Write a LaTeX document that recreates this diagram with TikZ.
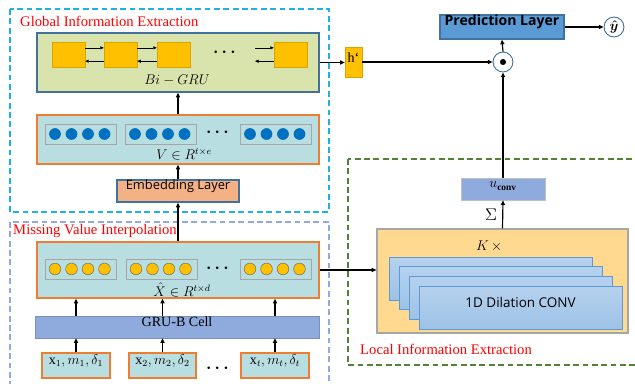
\documentclass[tikz,border=0pt]{standalone}
\usepackage{amsmath}
\usepackage{fontspec}
\setmainfont{Liberation Serif}
\newfontfamily\uifont{Open Sans}
\usetikzlibrary{fit,arrows.meta}

% colours taken from the figure
\definecolor{framecyan}{RGB}{30,176,232}
\definecolor{framelav}{RGB}{143,170,220}
\definecolor{framegreen}{RGB}{84,130,53}
\definecolor{edgeblue}{RGB}{65,113,156}
\definecolor{edgeorange}{RGB}{237,125,49}
\definecolor{grugreen}{RGB}{216,228,172}
\definecolor{panelcyan}{RGB}{185,222,226}
\definecolor{gruyellow}{RGB}{255,192,0}
\definecolor{dotblue}{RGB}{0,112,192}
\definecolor{embsalmon}{RGB}{244,177,131}
\definecolor{grubblue}{RGB}{143,170,220}
\definecolor{predblue}{RGB}{91,155,213}
\definecolor{kfill}{RGB}{255,217,143}
\definecolor{convtop}{RGB}{182,209,238}
\definecolor{convbot}{RGB}{157,194,230}

\tikzset{
  frame/.style={line width=1.1pt, dash pattern=on 5pt off 3pt},
  panel/.style={draw, line width=1.1pt, inner sep=0pt},
  group/.style={draw=black!35, line width=0.8pt, inner sep=0pt},
  cell/.style={draw=gruyellow!85!black, fill=gruyellow, line width=0.4pt, inner sep=0pt},
  inbox/.style={panel, draw=edgeorange, fill=panelcyan},
  convlayer/.style={draw=predblue, line width=0.8pt, top color=convtop, bottom color=convbot, inner sep=0pt},
  roundnode/.style={circle, draw=edgeblue, fill=white, line width=0.8pt, minimum size=17pt, inner sep=0pt},
  redtitle/.style={text=red, font=\fontsize{12.5}{14}\selectfont, inner sep=0pt},
  dotsnode/.style={inner sep=0pt, font=\Large},
  arr/.style={-{Triangle[length=4pt,width=3.5pt]}, line width=1pt},
  thinarr/.style={-{Triangle[length=3pt,width=2.6pt]}, line width=0.5pt},
}

\begin{document}
\begin{tikzpicture}[x=0.03cm, y=-0.03cm, font=\fontsize{12}{14}\selectfont]
\useasboundingbox (0,0) rectangle (635,383);

% dashed regions
\draw[frame, draw=framecyan] (10,9) rectangle (329,212);
\draw[frame, draw=framelav] (10,222) rectangle (329,395);
\draw[frame, draw=framegreen] (348,159) rectangle (645,365);
\node[redtitle, anchor=west] (globaltitle) at (20,21) {Global Information Extraction};
\node[redtitle, anchor=west] (missingtitle) at (13,231) {Missing Value Interpolation};
\node[redtitle, anchor=west] (localtitle) at (360,349) {Local Information Extraction};

% Bi-GRU
\node[panel, draw=edgeblue, fill=grugreen, fit={(37,33) (319,92)}] (bigru) {};
\foreach \i/\xa in {1/52, 2/104, 3/157, 4/274}
  \node[cell, fit={(\xa,42) (\xa+33,67)}] (c\i) {};
\foreach \a/\b in {c1/c2, c2/c3} {
  \draw[thinarr] ([yshift=0.2cm]\a.east) -- ([yshift=0.2cm]\b.west);
  \draw[thinarr] ([yshift=-0.2cm]\b.west) -- ([yshift=-0.2cm]\a.east);
}
\coordinate (c3out) at (255,54.5);
\draw[thinarr] ([yshift=0.2cm]c3out) -- ([yshift=0.2cm]c4.west);
\draw[thinarr] ([yshift=-0.2cm]c4.west) -- ([yshift=-0.2cm]c3out);
\node[dotsnode] (grudots) at (226,53) {$\boldsymbol{\cdots}$};
\node[inner sep=1pt] (bigrulab) at (177,80) {$Bi-GRU$};

% embedded sequence V
\node[panel, draw=edgeorange, fill=panelcyan, fit={(37,115) (319,164)}] (vpanel) {};
\foreach \g/\xa in {1/45, 2/125, 3/240} {
  \node[group, fit={(\xa,124) (\xa+71,144)}] (v\g) {};
  \foreach \k in {0,...,3}
    \fill[dotblue] (\xa+10+16.5*\k,134) circle (5pt);
}
\node[dotsnode] (vdots) at (219,133) {$\boldsymbol{\cdots}$};
\node[inner sep=1pt] (vlab) at (184,154) {$V \in R^{t\times e}$};

\node[panel, draw=edgeblue, fill=embsalmon, fit={(117,180) (239,202)}, font=\uifont\fontsize{11}{13}\selectfont] (emb) {Embedding Layer};

% interpolated sequence X hat
\node[panel, draw=edgeorange, fill=panelcyan, fit={(37,242) (319,298)}] (xhat) {};
\foreach \g/\xa in {1/45, 2/126, 3/240} {
  \node[group, fit={(\xa,259) (\xa+71,279)}] (x\g) {};
  \foreach \k in {0,...,3}
    \filldraw[fill=gruyellow, draw=black!60, line width=0.4pt] (\xa+10+16.5*\k,269) circle (5pt);
}
\node[dotsnode] (xdots) at (219,268) {$\boldsymbol{\cdots}$};
\node[inner sep=0pt] (xlab) at (182,290) {$\hat{X} \in R^{t\times d}$};

\node[fill=grubblue, draw=grubblue!85!black, line width=0.3pt, inner sep=0pt, fit={(35,316) (319,338)}] (grub) {GRU-B Cell};

% inputs
\node[inbox, fit={(42,353) (110,378)}] (in1) {$\mathrm{x}_1, m_1, \delta_1$};
\node[inbox, fit={(129,353) (196,378)}] (in2) {$\mathrm{x}_2, m_2, \delta_2$};
\node[inbox, fit={(241,353) (309,378)}] (in3) {$\mathrm{x}_t, m_t, \delta_t$};
\node[dotsnode] (indots) at (219,368) {$\boldsymbol{\cdots}$};
\foreach \i in {1,2,3} {
  \draw[arr] (in\i.north) -- (in\i.north |- grub.south);
  \draw[arr] (in\i.north |- grub.north) -- (in\i.north |- xhat.south);
}

% vertical flow on the left
\draw[arr] (xhat.north) -- (emb.south);
\draw[arr] (emb.north) -- (vpanel.south);
\draw[arr] (vpanel.north) -- (bigru.south);

% local branch
\node[draw=black!35, line width=1pt, fill=kfill, inner sep=0pt, fit={(377,229) (628,333)}] (kbox) {};
\node (klab) at (489,246) {$K\,\times$};
\foreach \i in {0,1,2}
  \node[convlayer, fit={(389+10*\i,257+9.7*\i) (592+10*\i,300+9.7*\i)}] (conv\i) {};
\node[convlayer, fit={(419,286) (622,329)}, font=\uifont\fontsize{11.5}{13}\selectfont] (conv3) {1D Dilation CONV};
\draw[arr] (xhat.east) -- (xhat.east -| kbox.west);

\node[fill=grubblue, draw=black!25, line width=0.5pt, inner sep=0pt, fit={(461,178) (545,200)}] (uconv) {$u_{\mathbf{conv}}$};
\draw[arr] (kbox.north) -- node[left=1pt, font=\Large] {$\Sigma$} (uconv.south);

% fusion and prediction
\node[cell, fit={(345,47) (362,77)}] (hp) {h‘};
\node[roundnode] (odot) at (503,62) {};
\fill (odot) circle (2.6pt);
\node[panel, draw=edgeblue, fill=predblue, fit={(440,15) (564,39)}, font=\uifont\bfseries\fontsize{12}{14}\selectfont] (pred) {Prediction Layer};
\node[roundnode] (yhat) at (614,27) {$\boldsymbol{\hat{y}}$};

\draw[arr] (bigru.east) -- (bigru.east -| hp.west);
\draw[arr] (hp.east) -- (odot.west);
\draw[arr] (uconv.north) -- (odot.south);
\draw[arr] (odot.north) -- (pred.south);
\draw[arr] (pred.east) -- (yhat.west);
\end{tikzpicture}
\end{document}
